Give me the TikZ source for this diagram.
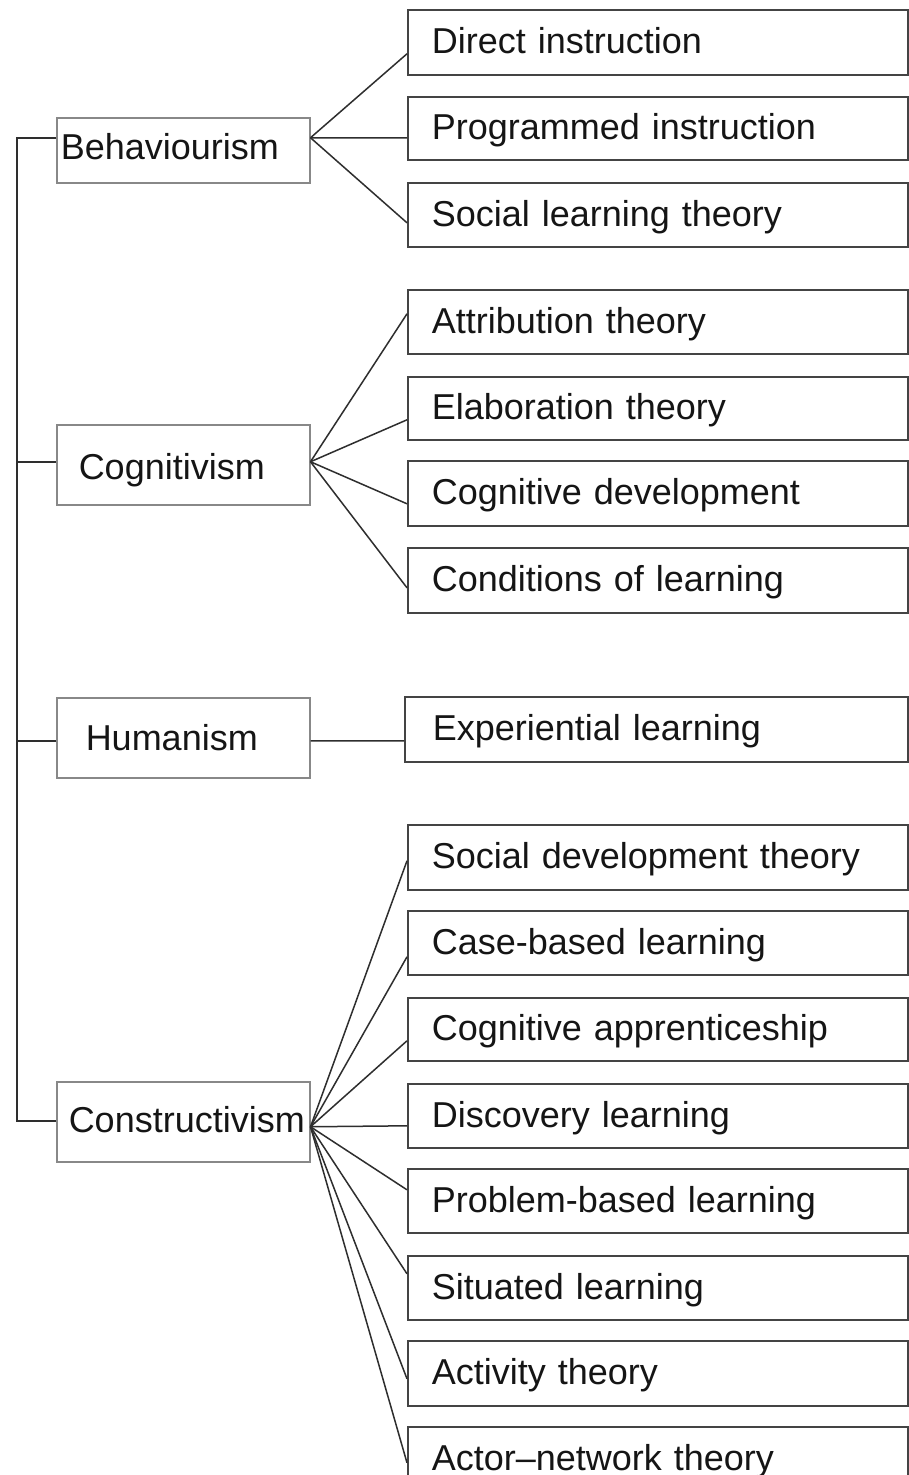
\documentclass[tikz,border=0pt]{standalone}
\usepackage{fontspec}
\setmainfont{Liberation Sans}
\definecolor{rgray}{HTML}{444444}
\definecolor{lgray}{HTML}{888888}
\definecolor{lcol}{HTML}{2E2E2E}
\definecolor{txt}{HTML}{151515}
\begin{document}
\begin{tikzpicture}[x=1pt,y=-1pt,
  box/.style={draw, inner ysep=0pt, anchor=north west, font=\fontsize{36pt}{40pt}\selectfont, align=left, text=txt},
  lbox/.style={box, draw=lgray, line width=1.5pt, inner xsep=0pt, text width=253pt, minimum height=#1pt},
  rbox/.style={box, draw=rgray, line width=1.6pt, inner xsep=24pt, text width=452pt, minimum height=#1pt, text height=29pt, text depth=6pt},
  conn/.style={draw=lcol, line width=1.5pt}]
\useasboundingbox (0,0) rectangle (908,1475);
\fill[white] (0,0) rectangle (908,1475);
% left column
\node[lbox=65, text height=26pt, text depth=7pt] (B) at (56,117) {\hspace*{4pt}Behaviourism};
\node[lbox=80, text height=36pt, text depth=6pt] (Cog) at (56,424) {\hspace*{22pt}Cognitivism};
\node[lbox=80, text height=32pt, text depth=6pt] (Hum) at (56,697) {\hspace*{29pt}Humanism};
\node[lbox=80, text height=28pt, text depth=6pt] (Con) at (56,1081) {\hspace*{12pt}Constructivism};
% right column
\node[rbox=65] (d1) at (407,9) {Direct instruction};
\node[rbox=63] (d2) at (407,96) {Programmed instruction};
\node[rbox=64] (d3) at (407,182) {Social learning theory};
\node[rbox=64] (c1) at (407,289) {Attribution theory};
\node[rbox=63] (c2) at (407,376) {Elaboration theory};
\node[rbox=65] (c3) at (407,460) {Cognitive development};
\node[rbox=65] (c4) at (407,547) {Conditions of learning};
\node[rbox=65, inner xsep=28pt, text width=447pt] (h1) at (404,696) {Experiential learning};
\node[rbox=65] (k1) at (407,824) {Social development theory};
\node[rbox=64] (k2) at (407,910) {Case-based learning};
\node[rbox=63] (k3) at (407,997) {Cognitive apprenticeship};
\node[rbox=64] (k4) at (407,1083) {Discovery learning};
\node[rbox=64] (k5) at (407,1168) {Problem-based learning};
\node[rbox=64] (k6) at (407,1255) {Situated learning};
\node[rbox=65] (k7) at (407,1340) {Activity theory};
\node[rbox=65] (k8) at (407,1426) {Actor–network theory};
% spine
\draw[conn] ([yshift=12.5pt]B.west) -- ++(-39,0) |- ([yshift=1pt]Con.west);
\draw[conn] ([yshift=3pt]Cog.west) -- ++(-39,0);
\draw[conn] ([yshift=-3pt]Hum.west) -- ++(-39,0);
% behaviourism
\draw[conn] ([yshift=12.5pt]B.east) -- ([yshift=-11.5pt]d1.west);
\draw[conn] ([yshift=12.5pt]B.east) -- ([yshift=-9.5pt]d2.west);
\draw[conn] ([yshift=12.5pt]B.east) -- ([yshift=-8pt]d3.west);
% cognitivism
\draw[conn] ([yshift=3pt]Cog.east) -- ([yshift=8pt]c1.west);
\draw[conn] ([yshift=3pt]Cog.east) -- ([yshift=-11.5pt]c2.west);
\draw[conn] ([yshift=3pt]Cog.east) -- ([yshift=-10.5pt]c3.west);
\draw[conn] ([yshift=3pt]Cog.east) -- ([yshift=-7.5pt]c4.west);
% humanism
\draw[conn] ([yshift=-3pt]Hum.east) -- ([yshift=-11.5pt]h1.west);
% constructivism
\draw[conn] ([yshift=-5pt]Con.east) -- ([yshift=-3.5pt]k1.west);
\draw[conn] ([yshift=-5pt]Con.east) -- ([yshift=-14pt]k2.west);
\draw[conn] ([yshift=-5pt]Con.east) -- ([yshift=-11.5pt]k3.west);
\draw[conn] ([yshift=-5pt]Con.east) -- ([yshift=-10pt]k4.west);
\draw[conn] ([yshift=-5pt]Con.east) -- ([yshift=11pt]k5.west);
\draw[conn] ([yshift=-5pt]Con.east) -- ([yshift=14pt]k6.west);
\draw[conn] ([yshift=-5pt]Con.east) -- ([yshift=-5.5pt]k7.west);
\draw[conn] ([yshift=-5pt]Con.east) -- ([yshift=-3.5pt]k8.west);
\end{tikzpicture}
\end{document}
